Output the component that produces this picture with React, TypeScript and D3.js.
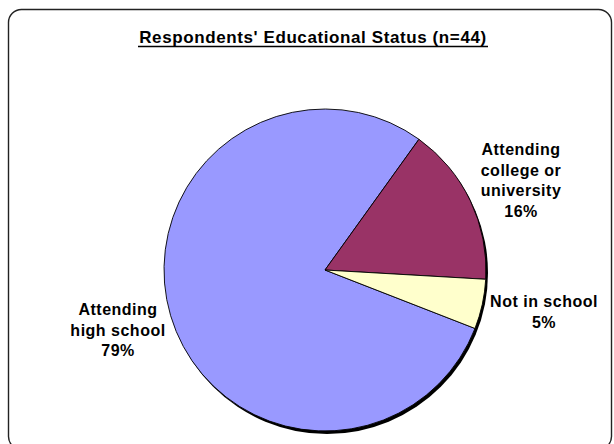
import React from "react";
import * as d3 from "d3";

const title = "Respondents' Educational Status (n=44)";
const categories = ["Attending high school", "Attending college or university", "Not in school"];
const values = [79, 16, 5];
const colors = ["#9999FF", "#993366", "#FFFFCC"];
const labelLines = [
  ["Attending", "high school"],
  ["Attending", "college or", "university"],
  ["Not in school"],
];
const labelPos = [
  { x: 118, y: 315 },
  { x: 521, y: 155 },
  { x: 544, y: 307 },
];

const W = 614;
const H = 444;
const cx = 325;
const cy = 270;
const R = 161;
const START_DEG = 111.3;
const FONT = "'Liberation Sans', Arial, Helvetica, sans-serif";

export default function App() {
  const pie = d3
    .pie<number>()
    .sort(null)
    .startAngle((START_DEG * Math.PI) / 180)
    .endAngle((START_DEG * Math.PI) / 180 + 2 * Math.PI);
  const arcs = pie(values);
  const arc = d3.arc<d3.PieArcDatum<number>>().innerRadius(0).outerRadius(R);
  const total = d3.sum(values);

  return (
    <svg
      width={W}
      height={H}
      style={{ position: "absolute", left: 0, top: 0, background: "#fff" }}
      fontFamily={FONT}
    >
      <rect x={8.5} y={9.5} width={603} height={440} rx={13} ry={13} fill="#fff" stroke="#222" strokeWidth={1.4} />
      <text x={313} y={43} textAnchor="middle" fontSize={17} fontWeight="bold" letterSpacing={0.6} fill="#000">
        {title}
      </text>
      <line x1={138} x2={488} y1={46.5} y2={46.5} stroke="#000" strokeWidth={1.4} />
      <circle cx={cx + 2} cy={cy + 3} r={R} fill="#000" />
      <g transform={`translate(${cx},${cy})`}>
        {arcs.map((a, i) => (
          <path key={categories[i]} d={arc(a) || ""} fill={colors[i]} stroke="#000" strokeWidth={0.9} strokeLinejoin="round" />
        ))}
      </g>
      {labelLines.map((lines, i) => (
        <text
          key={categories[i]}
          x={labelPos[i].x}
          y={labelPos[i].y}
          textAnchor="middle"
          fontSize={16}
          fontWeight="bold"
          letterSpacing={0.5}
          fill="#000"
        >
          {lines.map((l, j) => (
            <tspan key={j} x={labelPos[i].x} dy={j === 0 ? 0 : 20.5}>
              {l}
            </tspan>
          ))}
          <tspan x={labelPos[i].x} dy={20.5}>
            {`${Math.round((values[i] / total) * 100)}%`}
          </tspan>
        </text>
      ))}
    </svg>
  );
}
